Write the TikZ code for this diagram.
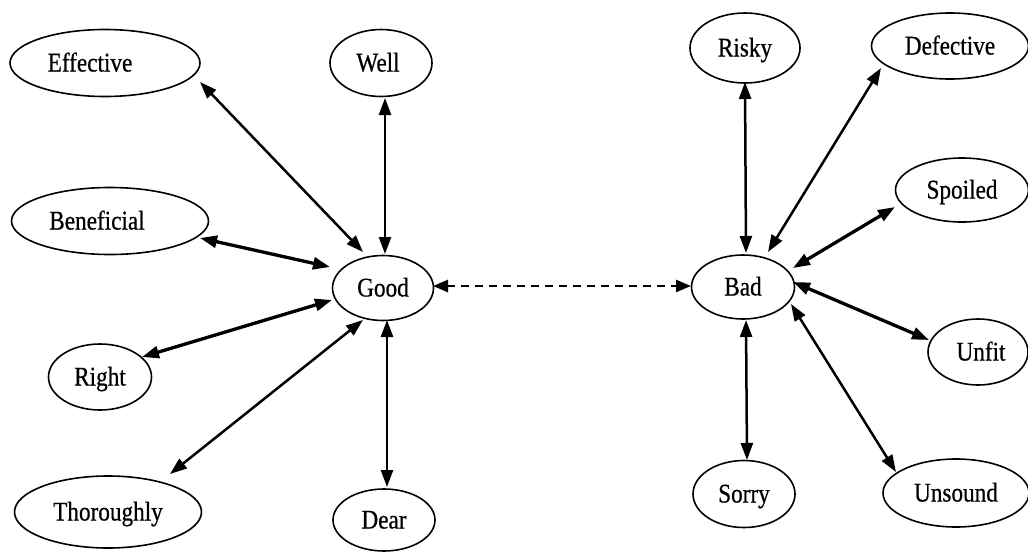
\documentclass[tikz,border=0pt]{standalone}
\usepackage{fontspec}
\setmainfont{Liberation Serif}[FakeStretch=0.86,FakeBold=0.6]
\usetikzlibrary{shapes.geometric,arrows.meta,calc}
\begin{document}
\begin{tikzpicture}[x=1pt,y=-1pt,
  word/.style={ellipse,draw,line width=1.6pt,inner sep=0pt,
    font=\fontsize{27}{29}\selectfont,text height=17pt,text depth=0pt},
  link/.style={{Triangle[length=17pt,width=12pt]}-{Triangle[length=17pt,width=12pt]},line width=2.5pt},
  thick link/.style={link,line width=3.3pt},
  dashlink/.style={{Triangle[length=15pt,width=12pt]}-{Triangle[length=15pt,width=12pt]},line width=2.5pt,dash pattern=on 8pt off 6pt}]
\useasboundingbox (0,0) rectangle (1028,552);
% left cluster
\node[word,minimum width=190pt,minimum height=67pt] (eff) at (105,63) {Effective\hspace*{30pt}};
\node[word,minimum width=102pt,minimum height=67pt] (well) at (381,63) {Well\hspace*{6pt}};
\node[word,minimum width=197pt,minimum height=67pt] (ben) at (110,221) {Beneficial\hspace*{26pt}};
\node[word,minimum width=101pt,minimum height=65pt] (good) at (383,288) {Good};
\node[word,minimum width=103pt,minimum height=66pt] (right) at (100,377) {Right};
\node[word,minimum width=187pt,minimum height=72pt] (thor) at (108,512) {Thoroughly};
\node[word,minimum width=102pt,minimum height=62pt] (dear) at (384,520) {Dear};
% right cluster
\node[word,minimum width=110pt,minimum height=70pt] (risky) at (745,48) {Risky};
\node[word,minimum width=157pt,minimum height=66pt] (def) at (950,46) {Defective};
\node[word,minimum width=133pt,minimum height=64pt] (spoil) at (962,190) {Spoiled};
\node[word,minimum width=103pt,minimum height=64pt] (bad) at (743,287) {Bad};
\node[word,minimum width=100pt,minimum height=66pt] (unfit) at (978,352) {\hspace*{6pt}Unfit};
\node[word,minimum width=102pt,minimum height=67pt] (sorry) at (744,494) {Sorry};
\node[word,minimum width=146pt,minimum height=68pt] (unsound) at (956,493) {Unsound};
% connectors around Good
\draw[link] ($(eff.center)+(95,19)$) -- ($(good.center)+(-20,-36)$);
\draw[link] ($(well.center)+(4,35)$) -- ($(good.center)+(2,-34)$);
\draw[thick link] ($(ben.center)+(90,17)$) -- ($(good.center)+(-53,-21)$);
\draw[thick link] ($(right.center)+(42,-20)$) -- ($(good.center)+(-51,12)$);
\draw[link] ($(thor.center)+(62,-38)$) -- ($(good.center)+(-20,32)$);
\draw[link] ($(dear.center)+(3,-33)$) -- ($(good.center)+(4,32)$);
% dashed link
\draw[dashlink] ($(good.center)+(50,-2)$) -- ($(bad.center)+(-52,-1)$);
% connectors around Bad
\draw[link] ($(risky.center)+(0,34)$) -- ($(bad.center)+(3,-34)$);
\draw[link] ($(def.center)+(-69,22)$) -- ($(bad.center)+(25,-35)$);
\draw[thick link] ($(spoil.center)+(-67,17)$) -- ($(bad.center)+(50,-19)$);
\draw[thick link] ($(unfit.center)+(-49,-12)$) -- ($(bad.center)+(50,-5)$);
\draw[link] ($(unsound.center)+(-60,-21)$) -- ($(bad.center)+(48,17)$);
\draw[link] ($(sorry.center)+(3,-34)$) -- ($(bad.center)+(3,33)$);
\end{tikzpicture}
\end{document}
